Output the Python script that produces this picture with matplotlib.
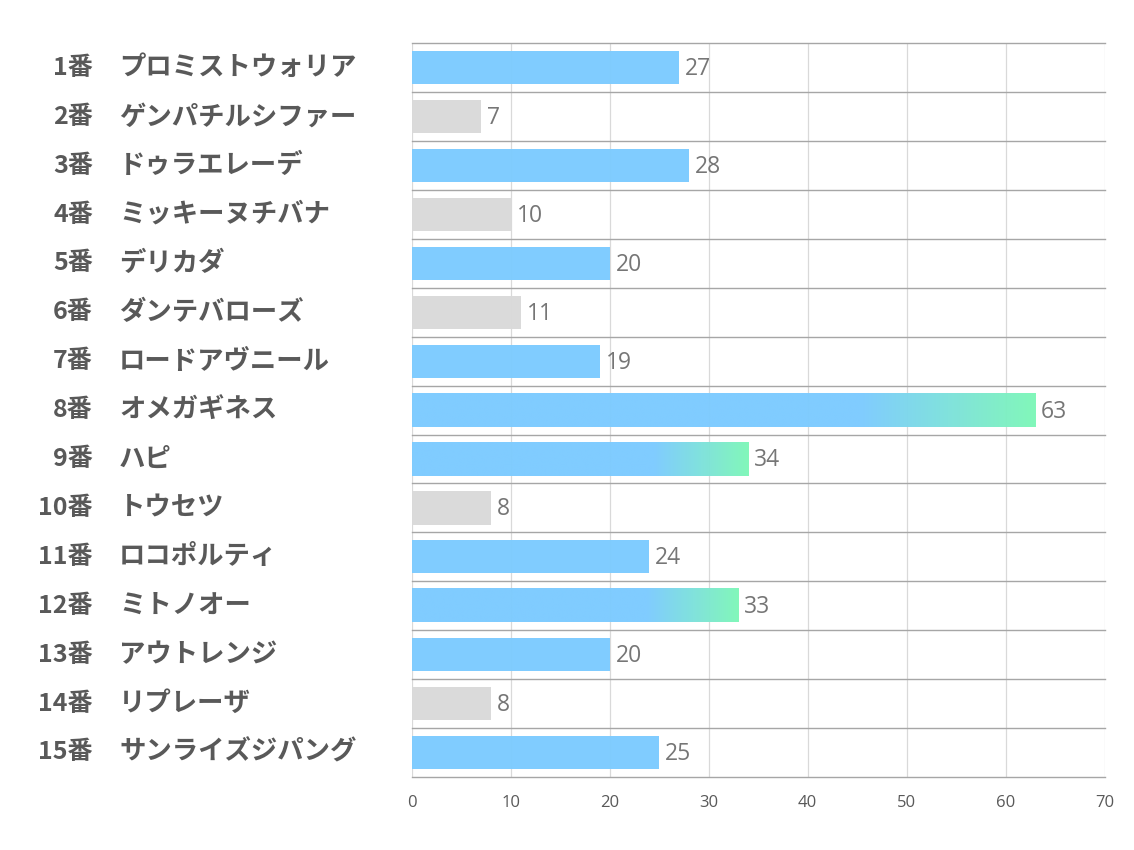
import matplotlib
matplotlib.use("Agg")
import matplotlib.pyplot as plt
import numpy as np
from matplotlib.colors import LinearSegmentedColormap
from matplotlib.transforms import blended_transform_factory

plt.rcParams['font.family'] = ['Noto Sans CJK JP', 'DejaVu Sans']

# --- data ---
numbers = ["1番", "2番", "3番", "4番", "5番", "6番", "7番", "8番",
           "9番", "10番", "11番", "12番", "13番", "14番", "15番"]
names = ["プロミストウォリア", "ゲンパチルシファー", "ドゥラエレーデ",
         "ミッキーヌチバナ", "デリカダ", "ダンテバローズ", "ロードアヴニール",
         "オメガギネス", "ハピ", "トウセツ", "ロコポルティ", "ミトノオー",
         "アウトレンジ", "リプレーザ", "サンライズジパング"]
values = [27, 7, 28, 10, 20, 11, 19, 63, 34, 8, 24, 33, 20, 8, 25]
x_ticks = [0, 10, 20, 30, 40, 50, 60, 70]

BLUE = "#7ccbff"
GREEN = "#7ef7b8"
GRAY_BAR = "#d9d9d9"
TXT = "#595959"

top3 = sorted(values, reverse=True)[:3]
cmap = LinearSegmentedColormap.from_list("bg", [BLUE, GREEN])

fig = plt.figure(figsize=(11.34, 8.5), dpi=100)
ax = fig.add_axes([0.363, 0.086, 0.611, 0.863])

n = len(values)
ypos = np.arange(n)
bar_h = 0.68

for y, v in zip(ypos, values):
    if v in top3:
        # gradient bar: solid blue for most of it, fading to green at the end
        g = np.linspace(0, 1, 300)
        g = np.clip((g - 0.72) / 0.28, 0, 1)
        ax.imshow(g[np.newaxis, :], cmap=cmap, aspect='auto',
                  extent=(0, v, y + bar_h / 2, y - bar_h / 2),
                  interpolation='bilinear', zorder=2, alpha=0.97)
    else:
        color = GRAY_BAR if v <= 11 else BLUE
        ax.barh(y, v, height=bar_h, color=color, zorder=2, alpha=0.97)
    ax.text(v + 0.6, y + 0.03, str(v), va='center', ha='left',
            fontsize=16.5, color="#767676", family=['Open Sans', 'DejaVu Sans'], zorder=3)

ax.set_xlim(0, 70)
ax.set_ylim(n - 0.5, -0.5)

# grid lines
for xv in x_ticks:
    ax.axvline(xv, color="#d9d9d9", lw=0.9, zorder=1)
for b in np.arange(-0.5, n, 1.0):
    ax.axhline(b, color="#a6a6a6", lw=1.0, zorder=1, clip_on=False)

for s in ax.spines.values():
    s.set_visible(False)

ax.set_xticks(x_ticks)
ax.set_xticklabels([str(t) for t in x_ticks], fontsize=12, color=TXT,
                   family=['Open Sans', 'DejaVu Sans'])
ax.tick_params(axis='x', length=0, pad=13)
ax.set_yticks([])

# row labels: number right-aligned, name left-aligned
trans = blended_transform_factory(fig.transFigure, ax.transData)
for y, num, nm in zip(ypos, numbers, names):
    ax.text(93 / 1134, y, num, transform=trans,
            ha='right', va='center', fontsize=18, fontweight='bold', color=TXT)
    ax.text(119 / 1134, y, nm, transform=trans,
            ha='left', va='center', fontsize=19, fontweight='bold', color=TXT)

fig.savefig("out.png", dpi=100)
